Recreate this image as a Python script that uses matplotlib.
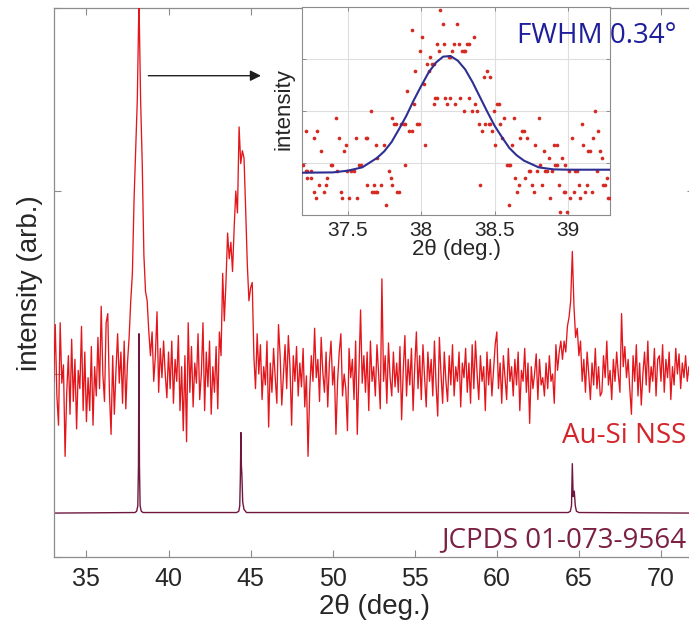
import numpy as np
import matplotlib
matplotlib.use("Agg")
import matplotlib.pyplot as plt

# ---------------- data ----------------
# Au-Si NSS XRD scan (arb. units), 2theta from 33.0 deg in 0.1 deg steps
scan_start, scan_step = 33.0, 0.1
au_si_nss = [
    96, 127, 88, 72, 128, 95, 105, 55, 90, 110,
    78, 119, 85, 108, 70, 102, 92, 126, 80, 112,
    74, 98, 80, 115, 72, 104, 88, 120, 92, 137,
    100, 85, 128, 133, 90, 67, 110, 78, 102, 122,
    95, 112, 84, 118, 81, 106, 120, 140, 155, 195,
    222, 250, 305, 250, 215, 165, 145, 140, 123, 110,
    123, 96, 110, 134, 90, 114, 98, 118, 100, 87,
    112, 92, 118, 84, 108, 96, 121, 80, 104, 69,
    110, 63, 128, 90, 115, 82, 106, 95, 122, 86,
    100, 128, 80, 112, 93, 118, 78, 104, 90, 115,
    81, 123, 110, 155, 129, 150, 177, 163, 172, 156,
    180, 200, 188, 235, 215, 222, 218, 190, 160, 140,
    147, 150, 110, 92, 122, 100, 116, 86, 104, 94,
    118, 71, 106, 90, 114, 98, 84, 127, 110, 83,
    100, 116, 92, 121, 104, 72, 110, 96, 115, 88,
    106, 93, 114, 82, 99, 55, 90, 110, 96, 125,
    98, 108, 85, 120, 101, 90, 112, 82, 106, 118,
    94, 104, 67, 96, 112, 122, 88, 100, 92, 69,
    114, 98, 108, 86, 118, 67, 102, 135, 95, 110,
    90, 112, 80, 118, 96, 104, 88, 116, 100, 81,
    152, 96, 110, 84, 117, 98, 88, 112, 93, 106,
    90, 115, 75, 102, 121, 88, 108, 94, 114, 80,
    104, 123, 92, 110, 86, 116, 98, 82, 112, 96,
    108, 88, 118, 94, 77, 120, 100, 84, 112, 96,
    85, 110, 94, 116, 88, 104, 96, 112, 82, 106,
    98, 114, 90, 106, 84, 116, 92, 118, 100, 86,
    110, 96, 104, 80, 112, 94, 108, 88, 102, 116,
    123, 92, 106, 84, 110, 98, 86, 114, 96, 104,
    88, 108, 94, 112, 80, 102, 96, 114, 90, 106,
    73, 104, 92, 100, 111, 86, 108, 94, 98, 88,
    106, 92, 110, 96, 100, 84, 116, 102, 112, 118,
    108, 118, 112, 126, 131, 140, 167, 137, 120, 125,
    110, 118, 96, 108, 90, 112, 100, 86, 106, 94,
    114, 92, 104, 88, 90, 110, 98, 118, 94, 102,
    86, 108, 96, 112, 100, 90, 133, 104, 115, 98,
    108, 92, 78, 110, 96, 116, 88, 106, 83, 100,
    112, 94, 118, 90, 104, 96, 114, 88, 108, 110,
    96, 116, 90, 108, 98, 112, 86, 104, 94, 114,
    100, 111, 92, 106, 98, 110, 96, 104, 100, 108,
]
two_theta = np.round(scan_start + scan_step * np.arange(len(au_si_nss)), 2)

# JCPDS 01-073-9564 reference pattern (offset below)
jcpds_x = [33.0, 37.95, 38.06, 38.13, 38.17, 38.20, 38.23, 38.27, 38.34, 38.45,
           44.15, 44.28, 44.34, 44.38, 44.41, 44.44, 44.47, 44.52, 44.60, 44.75,
           64.35, 64.48, 64.55, 64.60, 64.65, 64.72, 64.78, 64.85, 65.00, 72.0]
jcpds_y = [24, 24.3, 25, 28, 50, 122, 50, 28, 25, 24.3,
           24.3, 25, 28, 45, 68, 50, 45, 30, 26, 24.3,
           24.3, 25, 28, 51, 33, 36, 28, 25, 24.3, 24]

# inset: measured points around the (111) peak (counts)
inset_x = [37.197, 37.215, 37.215, 37.226, 37.226, 37.249, 37.249, 37.271, 37.271, 37.283,
           37.294, 37.305, 37.317, 37.339, 37.351, 37.362, 37.385, 37.396, 37.419, 37.430,
           37.441, 37.452, 37.464, 37.475, 37.486, 37.498, 37.509, 37.520, 37.543, 37.554,
           37.566, 37.577, 37.588, 37.622, 37.629, 37.634, 37.656, 37.667, 37.679, 37.679,
           37.690, 37.690, 37.701, 37.701, 37.724, 37.747, 37.758, 37.781, 37.792, 37.803,
           37.803, 37.815, 37.826, 37.837, 37.849, 37.860, 37.882, 37.894, 37.894, 37.905,
           37.916, 37.939, 37.939, 37.950, 37.962, 37.973, 37.984, 37.996, 38.007, 38.018,
           38.030, 38.041, 38.052, 38.063, 38.075, 38.086, 38.086, 38.097, 38.109, 38.109,
           38.120, 38.131, 38.143, 38.149, 38.154, 38.165, 38.177, 38.188, 38.199, 38.199,
           38.211, 38.222, 38.233, 38.245, 38.256, 38.267, 38.278, 38.290, 38.290, 38.301,
           38.312, 38.324, 38.324, 38.346, 38.358, 38.369, 38.380, 38.392, 38.403, 38.414,
           38.426, 38.437, 38.448, 38.459, 38.471, 38.471, 38.482, 38.493, 38.505, 38.516,
           38.527, 38.539, 38.550, 38.561, 38.584, 38.595, 38.595, 38.607, 38.618, 38.629,
           38.640, 38.652, 38.663, 38.674, 38.686, 38.697, 38.708, 38.720, 38.731, 38.742,
           38.753, 38.765, 38.776, 38.788, 38.799, 38.810, 38.821, 38.833, 38.844, 38.856,
           38.867, 38.878, 38.889, 38.901, 38.912, 38.923, 38.923, 38.935, 38.946, 38.957,
           38.969, 38.980, 38.980, 38.991, 39.003, 39.014, 39.025, 39.037, 39.048, 39.059,
           39.071, 39.082, 39.093, 39.104, 39.116, 39.127, 39.138, 39.150, 39.161, 39.172,
           39.184, 39.195, 39.206, 39.218, 39.229, 39.240, 39.252, 39.263, 39.274, 39.285]
inset_counts = [7, 6, 12, 6, 5, 6, 5, 3, 11, 2,
                12, 4, 9, 3, 4, 5, 7, 7, 14, 6,
                11, 3, 2, 9, 10, 6, 2, 6, 6, 11,
                2, 7, 7, 11, 4, 11, 15, 3, 3, 4,
                3, 10, 3, 8, 4, 10, 1, 6, 5, 4,
                14, 13, 13, 3, 3, 13, 13, 13, 7, 18,
                12, 12, 27, 16, 21, 13, 13, 24, 26, 19,
                10, 22, 21, 23, 22, 22, 16, 17, 17, 25,
                24, 30, 31, 28, 25, 17, 16, 23, 23, 17,
                24, 25, 16, 28, 25, 17, 24, 24, 15, 24,
                25, 25, 17, 15, 26, 16, 15, 13, 4, 12,
                20, 13, 21, 13, 20, 13, 12, 15, 10, 16,
                16, 13, 11, 14, 7, 7, 1, 7, 10, 14,
                5, 3, 4, 11, 12, 12, 5, 11, 6, 6,
                4, 3, 10, 6, 14, 7, 4, 9, 6, 6,
                8, 2, 6, 10, 7, 10, 7, 4, 0, 8,
                3, 3, 7, 0, 6, 2, 11, 3, 6, 6,
                4, 2, 13, 10, 3, 4, 9, 9, 3, 11,
                15, 6, 12, 9, 8, 4, 4, 5, 2, 2]

# inset: Gaussian fit curve (sampled)
fit_x = [37.19, 37.4, 37.5, 37.6, 37.7, 37.75, 37.8, 37.85, 37.9, 37.95,
         38.0, 38.05, 38.1, 38.15, 38.2, 38.25, 38.3, 38.35, 38.4, 38.45,
         38.5, 38.55, 38.6, 38.65, 38.7, 38.8, 38.9, 39.0, 39.29]
fit_y = [5.8, 5.85, 6.1, 6.6, 8.0, 9.0, 10.4, 12.3, 14.3, 16.6,
         18.7, 20.7, 22.2, 23.1, 23.2, 22.5, 21.2, 19.3, 17.1, 14.9,
         12.8, 11.1, 9.5, 8.4, 7.6, 6.6, 6.3, 6.25, 6.25]

main_xticks = [35, 40, 45, 50, 55, 60, 65, 70]
inset_xticks = [37.5, 38, 38.5, 39]

# ---------------- style ----------------
W, H = 689, 628
RED = "#e3161c"
MAROON = "#6f1740"
SPINE = "#8c8c8c"
TXT = "#262626"
plt.rcParams["font.family"] = ["Liberation Sans", "DejaVu Sans"]

fig = plt.figure(figsize=(W / 100, H / 100), dpi=100)

def fx(px):
    return px / W

def fy(py):
    return 1 - py / H

# main axes (right part runs off the figure as in the reference)
ax = fig.add_axes([fx(53.6), fy(557), (693.8 - 53.6) / W, (557 - 8) / H])
ax.plot(jcpds_x, jcpds_y, color=MAROON, lw=1.0, zorder=2)
ax.plot(two_theta, au_si_nss, color=RED, lw=0.95, zorder=3)
ax.set_xlim(33, 72)
ax.set_ylim(0, 300)
ax.set_xticks(main_xticks)
ax.set_yticks([0, 100, 200, 300])
ax.set_yticklabels([])
ax.tick_params(direction="in", top=True, right=True, length=5, width=0.8,
               color=SPINE, labelsize=18, labelcolor=TXT, pad=7)
for s in ax.spines.values():
    s.set_color(SPINE)
    s.set_linewidth(0.9)

ax.annotate("", xy=(45.63, 263), xytext=(38.77, 263),
            arrowprops=dict(arrowstyle="-|>", color="#202020", lw=1.0,
                            mutation_scale=16, shrinkA=0, shrinkB=0))

fig.text(fx(375), fy(607), "2θ (deg.)", ha="center", va="center",
         fontsize=20, color=TXT)
fig.text(fx(30), fy(283), "intensity (arb.)", ha="center", va="center",
         rotation=90, fontsize=20, color=TXT)

fig.text(fx(686), fy(443), "Au-Si NSS", color="#d3262b", fontsize=20,
         family=["Open Sans", "DejaVu Sans"], va="baseline", ha="right")
fig.text(fx(686), fy(547), "JCPDS 01-073-9564", color="#7b1f43", fontsize=20,
         family=["Open Sans", "DejaVu Sans"], va="baseline", ha="right")
fig.text(fx(517), fy(43), "FWHM 0.34°", color="#1f1f9c", fontsize=20,
         family=["Open Sans", "DejaVu Sans"], va="baseline", ha="left")

# inset
axi = fig.add_axes([fx(302), fy(215), 308 / W, 208 / H])
axi.set_facecolor("white")
axi.grid(True, color="#dedede", lw=0.8)
axi.set_axisbelow(True)
axi.scatter(inset_x, inset_counts, s=7, color="#d42a22", linewidths=0, zorder=3)
axi.plot(fit_x, fit_y, color="#2d2f92", lw=1.5, zorder=4)
axi.set_xlim(37.19, 39.285)
axi.set_ylim(-0.5, 30.5)
axi.set_xticks(inset_xticks)
axi.set_xticklabels(["37.5", "38", "38.5", "39"])
axi.set_yticks(np.linspace(-0.5, 30.5, 5))
axi.set_yticklabels([])
axi.tick_params(direction="in", top=True, right=True, length=3, width=0.7,
                color=SPINE, labelsize=15, labelcolor=TXT, pad=4)
for s in axi.spines.values():
    s.set_color(SPINE)
    s.set_linewidth(0.8)

fig.text(fx(456), fy(250), "2θ (deg.)", ha="center", va="center",
         fontsize=16, color=TXT)
fig.text(fx(284), fy(109), "intensity", ha="center", va="center",
         rotation=90, fontsize=16, color=TXT)

fig.savefig("out.png", dpi=100)
